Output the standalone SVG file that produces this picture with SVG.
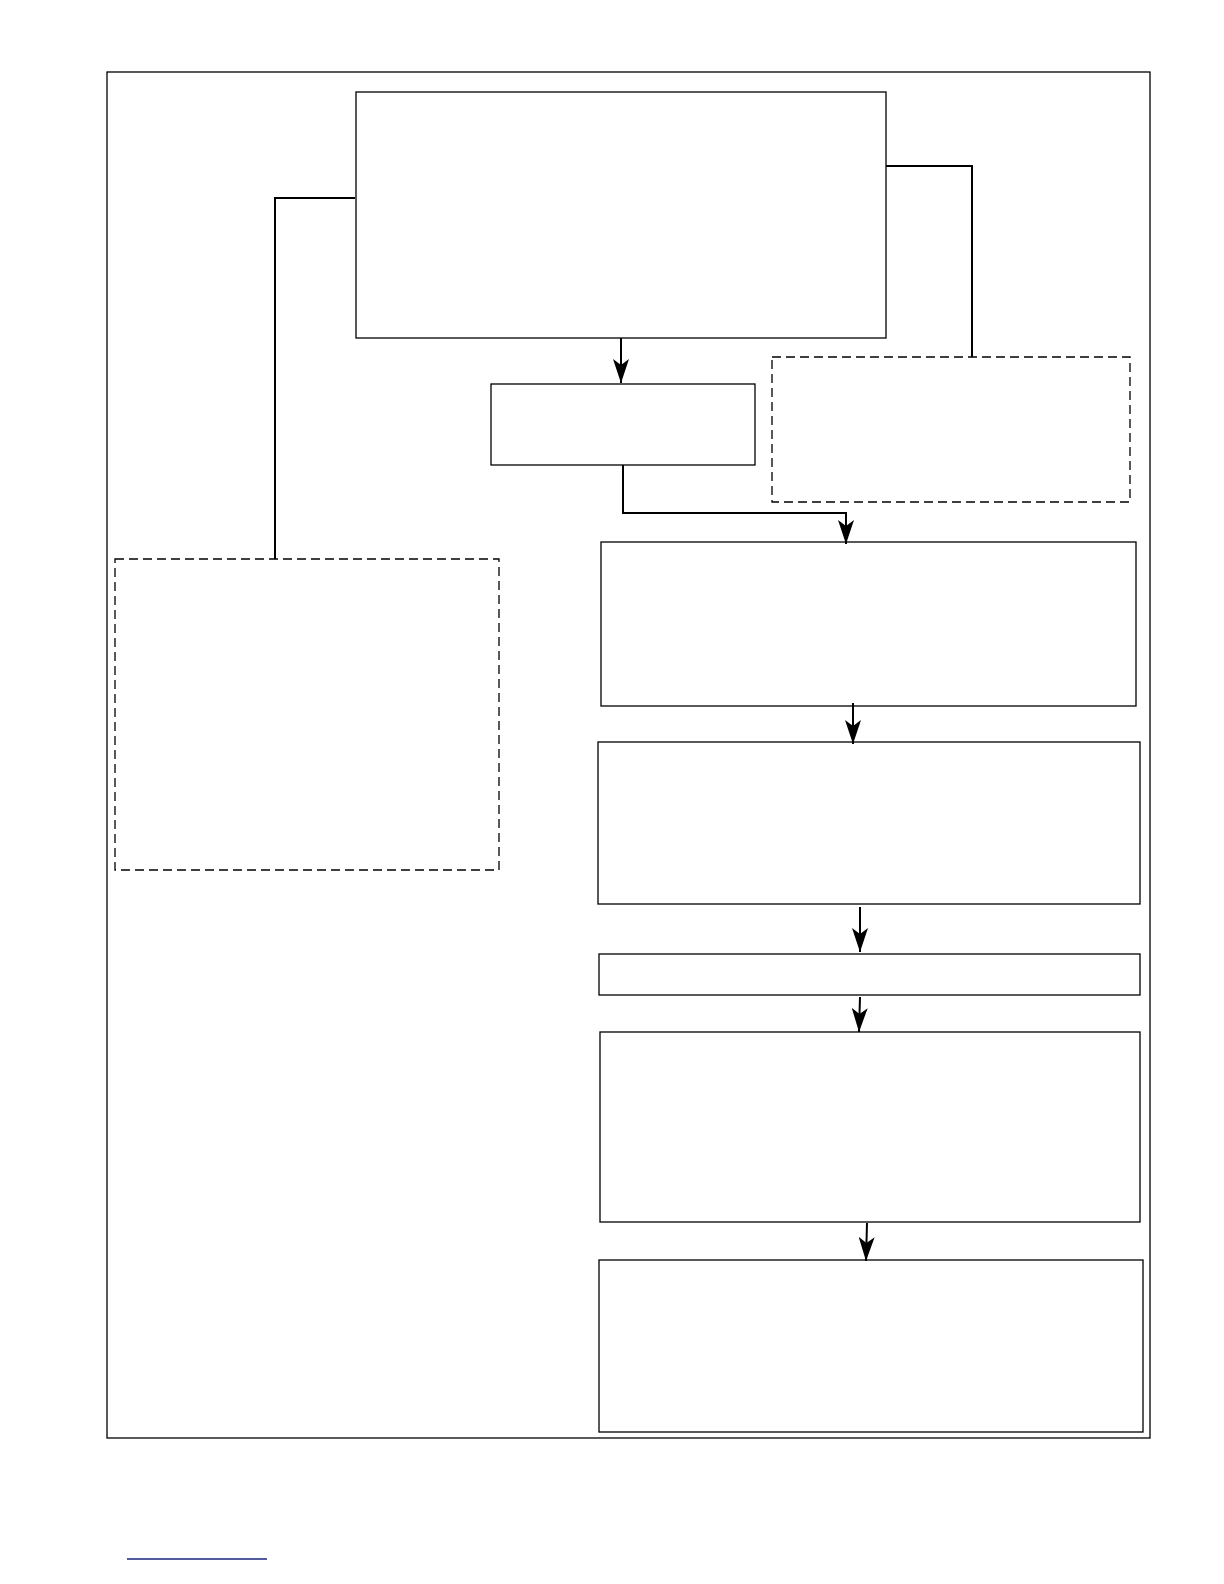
<svg xmlns="http://www.w3.org/2000/svg" width="1224" height="1584" viewBox="0 0 1224 1584">
<style>
.b{fill:#fff;stroke:#000;stroke-width:1.3}
.d{fill:#fff;stroke:#000;stroke-width:1.3;stroke-dasharray:9,5}
.c{fill:none;stroke:#000;stroke-width:2}
</style>
<defs>
<marker id="ah" viewBox="0 0 24 16" refX="24" refY="8" markerWidth="24" markerHeight="16" markerUnits="userSpaceOnUse" orient="auto"><path d="M0,0 L24,8 L0,16 L6,8 Z"/></marker></defs>
<rect x="107" y="72" width="1043" height="1366" fill="#fff" stroke="#000" stroke-width="1.3"/>
<g id="n1"><rect class="b" x="356" y="92" width="530" height="246"/></g>
<g id="n2"><rect class="b" x="491" y="384" width="264" height="81"/></g>
<g id="n3"><rect class="d" x="772" y="357" width="358" height="145"/></g>
<g id="n4"><rect class="d" x="115" y="559" width="384" height="311"/></g>
<g id="n5"><rect class="b" x="601" y="542" width="535" height="164"/></g>
<g id="n6"><rect class="b" x="598" y="742" width="542" height="162"/></g>
<g id="n7"><rect class="b" x="599" y="954" width="541" height="41"/></g>
<g id="n8"><rect class="b" x="600" y="1032" width="540" height="190"/></g>
<g id="n9"><rect class="b" x="599" y="1260" width="544" height="172"/></g>
<g id="connectors">
<path class="c" d="M621,338 V383" marker-end="url(#ah)"/>
<path class="c" d="M623,465 V513 H846 V544" marker-end="url(#ah)"/>
<path class="c" d="M355,198 H275 V559"/>
<path class="c" d="M886,166 H972 V357"/>
<path class="c" d="M853,703 V744" marker-end="url(#ah)"/>
<path class="c" d="M860,907 V952" marker-end="url(#ah)"/>
<path class="c" d="M860,997 L859,1032" marker-end="url(#ah)"/>
<path class="c" d="M867,1223 L866,1261" marker-end="url(#ah)"/>
</g>
<line x1="127" y1="1559" x2="267" y2="1559" stroke="#1a237e" stroke-width="1.5"/>
</svg>
